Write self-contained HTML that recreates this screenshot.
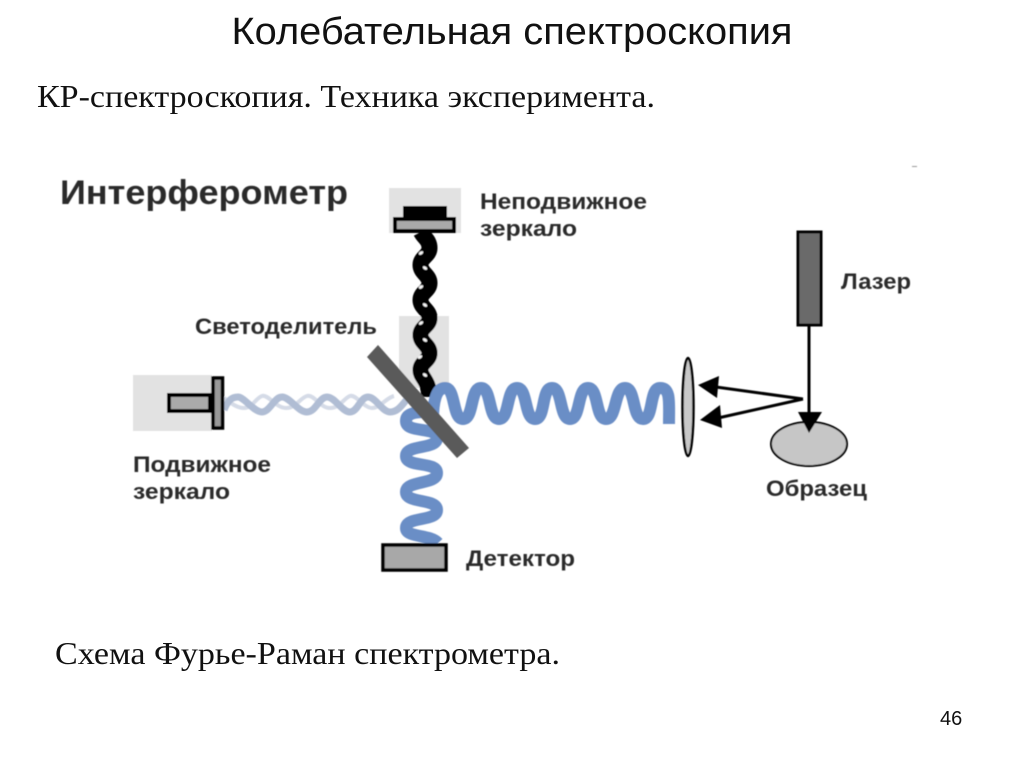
<!DOCTYPE html>
<html><head><meta charset="utf-8"><style>
html,body{margin:0;padding:0;background:#fff}
svg{display:block}
</style></head><body>
<svg width="1024" height="768" viewBox="0 0 1024 768" xmlns="http://www.w3.org/2000/svg">
<defs><filter id="b" x="-5%" y="-5%" width="110%" height="110%"><feGaussianBlur stdDeviation="0.6"/></filter></defs>
<rect width="1024" height="768" fill="#fff"/>
<text x="512" y="44" text-anchor="middle" font-family="'Liberation Sans',sans-serif" font-size="38" fill="#111" textLength="561" lengthAdjust="spacingAndGlyphs">Колебательная спектроскопия</text>
<text x="37" y="107" font-family="'Liberation Serif',serif" font-size="32" fill="#111" textLength="618" lengthAdjust="spacingAndGlyphs">КР-спектроскопия. Техника эксперимента.</text>
<text x="55" y="664" font-family="'Liberation Serif',serif" font-size="32" fill="#111" textLength="505" lengthAdjust="spacingAndGlyphs">Схема Фурье-Раман спектрометра.</text>
<text x="940" y="725" font-family="'Liberation Sans',sans-serif" font-size="20" fill="#111">46</text>
<g filter="url(#b)">
<rect x="912" y="166" width="5" height="1" fill="#999"/>
<rect x="389" y="188" width="72" height="45" fill="#e2e2e2"/>
<rect x="399" y="316" width="50" height="72" fill="#e2e2e2"/>
<rect x="133" y="375" width="79" height="56" fill="#e2e2e2"/>
<path fill="none" stroke="#d5dbe7" stroke-width="4" d="M224 398 C230 402 236 408 244 408 S256 398 262 396 S276 408 286 408 S300 398 307 396 S320 408 330 408 S344 398 350 396 S364 408 372 408 S386 398 394 396"/>
<path fill="none" stroke="#b0bdd4" stroke-width="7" d="M224 410 C228 400 232 397 238 397 S254 412 262 412 S274 397 282 397 S298 412 307 412 S319 397 327 397 S342 412 350 412 S360 397 368 397 S382 412 390 412 S402 405 408 398"/>
<path fill="none" stroke="#000" stroke-width="16" d="M421 232 C424 238 429.500 240 429.500 248 S420.500 257 420.500 265 S429.500 275 429.500 283 S420.500 292 420.500 300 S429.500 310 429.500 318 S420.500 327 420.500 335 S429.500 345 429.500 353 S420.500 362 420.500 370 S429.500 380 429 397"/>
<g fill="#f4f4f4">
<ellipse cx="421" cy="253" rx="2.500" ry="1.500" transform="rotate(-35 421 253)"/>
<ellipse cx="425" cy="268" rx="2.500" ry="1.500" transform="rotate(35 425 268)"/>
<ellipse cx="421" cy="287" rx="2.500" ry="1.500" transform="rotate(-35 421 287)"/>
<ellipse cx="425" cy="305" rx="2.500" ry="1.500" transform="rotate(35 425 305)"/>
<ellipse cx="421" cy="323" rx="2.500" ry="1.500" transform="rotate(-35 421 323)"/>
<ellipse cx="425" cy="340" rx="2.500" ry="1.500" transform="rotate(35 425 340)"/>
<ellipse cx="420" cy="357" rx="2.500" ry="1.500" transform="rotate(-35 420 357)"/>
<ellipse cx="425" cy="375" rx="2.500" ry="1.500" transform="rotate(35 425 375)"/>
</g>
<g fill="none" stroke="#6a8ec6" stroke-width="12" stroke-linecap="butt">
<path d="M433 420 C433 402 436 388 445 388 C456 388 452 419 463 419 S470 388 481 388 S488 419 499 419 S506 388 517 388 S524 419 535 419 S541 388 552 388 S559 419 570 419 S577 388 588 388 S595 419 606 419 S614 388 625 388 S632 419 643 419 S649 388 660 388 S669 402 669 424"/>
<path d="M425 412 C414 412 406 414 406 421 C406 434 437 426 437 438 C437 450 406 444 406 456 C406 468 437 461 437 473 C437 485 406 480 406 492 C406 504 437 498 437 510 C437 522 406 516 406 528 C406 538 430 534 438 543"/>
</g>
<polygon points="378,345 367,357 457,458 469,448" fill="#5a5a5a"/>
<rect x="403" y="206" width="44" height="12" fill="#000"/>
<rect x="395" y="219" width="59" height="12" fill="#aaa" stroke="#000" stroke-width="4"/>
<rect x="169" y="395" width="41" height="16" fill="#aaa" stroke="#000" stroke-width="4"/>
<rect x="213" y="378" width="9.500" height="50" fill="#999" stroke="#000" stroke-width="3.500"/>
<rect x="383" y="545" width="63" height="25" fill="#a8a8a8" stroke="#000" stroke-width="3.500"/>
<ellipse cx="688" cy="407" rx="5.500" ry="49" fill="#c8c8c8" stroke="#000" stroke-width="2.500"/>
<rect x="798" y="232" width="23" height="93" fill="#6a6a6a" stroke="#000" stroke-width="3"/>
<ellipse cx="809" cy="444" rx="38" ry="22" fill="#c6c6c6" stroke="#000" stroke-width="2"/>
<line x1="809" y1="325" x2="809" y2="415" stroke="#000" stroke-width="3"/>
<polygon points="798,412 822,412 809,433" fill="#000"/>
<path d="M803 399 L716 387 M803 399 L718 418" stroke="#000" stroke-width="3" fill="none"/>
<polygon points="698,385 719,376 717,398" fill="#000"/>
<polygon points="700,420 720,405 722,428" fill="#000"/>
<g font-family="'Liberation Sans',sans-serif" font-weight="bold" font-size="22" fill="#2a2a2a" lengthAdjust="spacingAndGlyphs">
<text x="60" y="204" font-size="34" textLength="288" lengthAdjust="spacingAndGlyphs">Интерферометр</text>
<text x="480" y="209" textLength="167" lengthAdjust="spacingAndGlyphs">Неподвижное</text>
<text x="480" y="236" textLength="97" lengthAdjust="spacingAndGlyphs">зеркало</text>
<text x="841" y="289" textLength="70" lengthAdjust="spacingAndGlyphs">Лазер</text>
<text x="195" y="334" textLength="182" lengthAdjust="spacingAndGlyphs">Светоделитель</text>
<text x="133" y="472" textLength="138" lengthAdjust="spacingAndGlyphs">Подвижное</text>
<text x="133" y="499" textLength="97" lengthAdjust="spacingAndGlyphs">зеркало</text>
<text x="766" y="496" textLength="101" lengthAdjust="spacingAndGlyphs">Образец</text>
<text x="466" y="566" textLength="109" lengthAdjust="spacingAndGlyphs">Детектор</text>
</g>
</g>
</svg>
</body></html>
